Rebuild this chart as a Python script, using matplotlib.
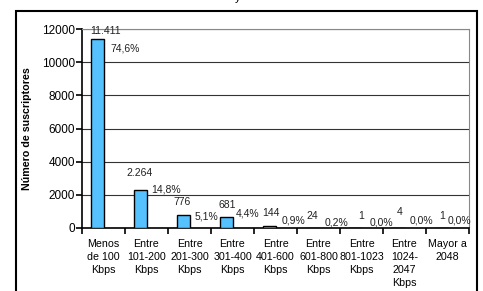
import matplotlib.pyplot as plt
import matplotlib.patches as patches
import numpy as np

# Data
categories = ['Menos\nde 100\nKbps', 'Entre\n101-200\nKbps', 'Entre\n201-300\nKbps',
              'Entre\n301-400\nKbps', 'Entre\n401-600\nKbps', 'Entre\n601-800\nKbps',
              'Entre\n801-1023\nKbps', 'Entre\n1024-\n2047\nKbps', 'Mayor a\n2048']
suscriptores = [11411, 2264, 776, 681, 144, 24, 1, 4, 1]
porcentajes = [74.6, 14.8, 5.1, 4.4, 0.9, 0.2, 0.0, 0.0, 0.0]

# label offsets in pixels (Excel placement)
cnt_dx = [8.5, -0.5, -1.5, 0.5, 1.5, -0.5, 5.5, 1.5, 0.5]
cnt_dy = [8, 17, 13, 12, 13, 11.6, 12, 16, 12]
pct_dx = [6.5, 4.5, 5.5, 3.5, 6.5, 6.5, 8.5, 5.5, 0.5]
pct_dy = [-10, 0.5, -1, 3.7, 5.6, 5.6, 5, 7, 7]

plt.rcParams['font.family'] = ['Liberation Sans', 'DejaVu Sans']

fig = plt.figure(figsize=(4.83, 2.91), dpi=100)
ax = fig.add_axes([82/483, 1 - 228/291, 387/483, 199/291])

x = np.arange(len(categories))
bw = 0.29
ax.bar(x - bw/2, suscriptores, width=bw, color='#55c2ff', edgecolor='black', linewidth=1, zorder=3)

ax.set_xlim(-0.5, len(categories) - 0.5)
ax.set_ylim(0, 12000)
ax.set_yticks(range(0, 12001, 2000))
ax.tick_params(axis='y', labelsize=8.5, length=4, width=1.2, pad=1)
ax.set_xticks(x)
ax.set_xticklabels(categories, fontsize=7.7, linespacing=1.35)
ax.set_xticks(np.arange(-0.5, len(categories)), minor=True)
ax.tick_params(axis='x', which='major', length=0, pad=8)
ax.tick_params(axis='x', which='minor', length=4, width=1.2)
ax.yaxis.grid(True, color='#333333', linewidth=0.8, zorder=0)

ax.spines['left'].set_color('black')
ax.spines['bottom'].set_color('black')
ax.spines['left'].set_linewidth(1.2)
ax.spines['bottom'].set_linewidth(1.2)
ax.spines['top'].set_color('#888888')
ax.spines['right'].set_color('#888888')

ax.set_ylabel('Número de suscriptores', fontsize=7.7, fontweight='bold', labelpad=7)

for i in range(len(categories)):
    cnt = f'{suscriptores[i]:,}'.replace(',', '.')
    ax.annotate(cnt, (x[i] - bw/2, suscriptores[i]), xytext=(cnt_dx[i], cnt_dy[i]),
                textcoords='offset pixels', ha='center', va='center', fontsize=7.5, color='#222222')
    pct = f'{porcentajes[i]:.1f}%'.replace('.', ',')
    ax.annotate(pct, (x[i], suscriptores[i]), xytext=(pct_dx[i], pct_dy[i]),
                textcoords='offset pixels', ha='left', va='center', fontsize=7.5, color='#222222')

# outer frame and cut-off title fragment
fig.patches.append(patches.Rectangle((16/483, -0.05), 461/483, 1.05 - 11/291,
                                     transform=fig.transFigure, fill=False,
                                     edgecolor='black', linewidth=1.5))
fig.text(238/483, 0.997, 'y', ha='center', va='baseline', fontsize=8)

fig.savefig('out.png', dpi=100)
